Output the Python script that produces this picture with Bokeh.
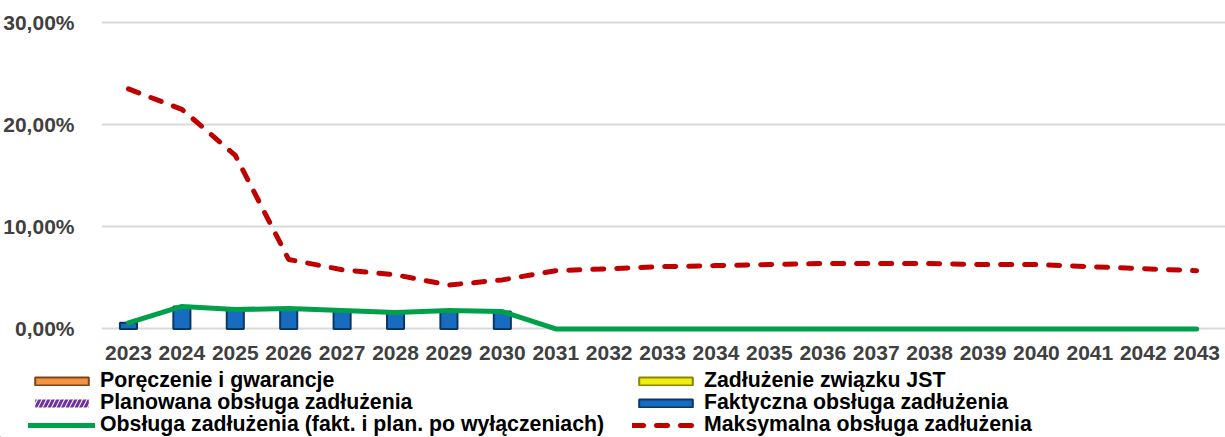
from bokeh.plotting import figure
from bokeh.models import Range1d, FixedTicker, Legend, LegendItem
from bokeh.embed import file_html
from bokeh.resources import INLINE

years = list(range(2023, 2044))
year_labels = [str(y) for y in years]
max_service = [23.5, 21.5, 17.0, 6.8, 5.8, 5.3, 4.3, 4.8, 5.7, 5.9, 6.1, 6.2, 6.3, 6.4, 6.4, 6.4, 6.3, 6.3, 6.1, 5.9, 5.7]
service_after_excl = [0.6, 2.2, 1.9, 2.0, 1.8, 1.6, 1.8, 1.7, 0, 0, 0, 0, 0, 0, 0, 0, 0, 0, 0, 0, 0]
actual_years = [2023, 2024, 2025, 2026, 2027, 2028, 2029, 2030]
actual_service = [0.6, 2.2, 1.9, 2.0, 1.8, 1.6, 1.8, 1.7]
y_ticks = [0, 10, 20, 30]
y_tick_labels = ["0,00%", "10,00%", "20,00%", "30,00%"]
legend_labels = ["Poręczenie i gwarancje", "Zadłużenie związku JST",
                 "Planowana obsługa zadłużenia", "Faktyczna obsługa zadłużenia",
                 "Obsługa zadłużenia (fakt. i plan. po wyłączeniach)", "Maksymalna obsługa zadłużenia"]
# legend swatch series lie outside the legend panel's range (no visible marks)
swatch_x = [-10]
swatch_y = [0]

FONT = "Liberation Sans"
BAR_STYLES = {
    "guar": dict(fill_color="#f39443", line_color="#7a4519", line_width=2),
    "zw": dict(fill_color="#eeee10", line_color="#85850a", line_width=2),
    "plan": dict(fill_color="white", line_color=None, hatch_pattern="/", hatch_color="#7030a0",
                 hatch_scale=9, hatch_weight=3),
    "act": dict(fill_color="#176cc0", line_color="#0a3763", line_width=2),
}
GREEN = dict(line_color="#00a04a", line_width=5, line_join="round", line_cap="round")
RED = dict(line_color="#c00000", line_width=5, line_dash="11 13", line_join="round", line_cap="round")

p = figure(width=1225, height=368, output_backend="svg", toolbar_location=None,
           x_range=Range1d(2022.495, 2043.54), y_range=Range1d(-0.35, 30.2),
           min_border_left=100, min_border_right=0, min_border_top=20, min_border_bottom=36)
p.outline_line_color = None

p.xaxis.ticker = FixedTicker(ticks=years)
p.xaxis.major_label_overrides = {y: s for y, s in zip(years, year_labels)}
p.yaxis.ticker = FixedTicker(ticks=y_ticks)
p.yaxis.major_label_overrides = {t: s for t, s in zip(y_ticks, y_tick_labels)}
for ax in (p.xaxis, p.yaxis):
    ax.axis_line_color = None
    ax.major_tick_line_color = None
    ax.minor_tick_line_color = None
    ax.major_label_text_font = FONT
    ax.major_label_text_font_style = "bold"
    ax.major_label_text_font_size = "21px"
    ax.major_label_text_color = "#404040"
p.yaxis.major_label_standoff = 21
p.xaxis.major_label_standoff = 7

p.xgrid.grid_line_color = None
p.ygrid.grid_line_color = "#d9d9d9"
p.ygrid.grid_line_width = 2
p.ygrid.ticker = FixedTicker(ticks=y_ticks)

p.vbar(x=actual_years, top=actual_service, bottom=0, width=0.32, **BAR_STYLES["act"])
p.line(years, service_after_excl, **GREEN)
p.line(years, max_service, **RED)

# legend panel
q = figure(width=1225, height=69, output_backend="svg", toolbar_location=None,
           x_range=Range1d(0, 1), y_range=Range1d(0, 1),
           min_border_left=0, min_border_right=0, min_border_top=0, min_border_bottom=0)
q.outline_line_color = None
q.axis.visible = False
q.grid.visible = False

renderers = [
    q.vbar(x=swatch_x, top=swatch_y, width=0.3, **BAR_STYLES["guar"]),
    q.vbar(x=swatch_x, top=swatch_y, width=0.3, **BAR_STYLES["zw"]),
    q.vbar(x=swatch_x, top=swatch_y, width=0.3, **BAR_STYLES["plan"]),
    q.vbar(x=swatch_x, top=swatch_y, width=0.3, **BAR_STYLES["act"]),
    q.line(swatch_x, swatch_y, **GREEN),
    q.line(swatch_x, swatch_y, **RED),
]
col_x = [28, 632]
row_y = [44, 22, 0]
for i, (lab, r) in enumerate(zip(legend_labels, renderers)):
    lg = Legend(items=[LegendItem(label=lab, renderers=[r])],
                location=(col_x[i % 2], row_y[i // 2]), orientation="vertical",
                padding=0, spacing=0, margin=0, border_line_color=None,
                background_fill_alpha=0, glyph_width=67, glyph_height=10,
                label_height=21, label_standoff=5,
                label_text_font=FONT, label_text_font_style="bold",
                label_text_font_size="21.3px", label_text_color="black")
    q.add_layout(lg, "center")

open("out.html", "w").write(file_html([p, q], INLINE))
